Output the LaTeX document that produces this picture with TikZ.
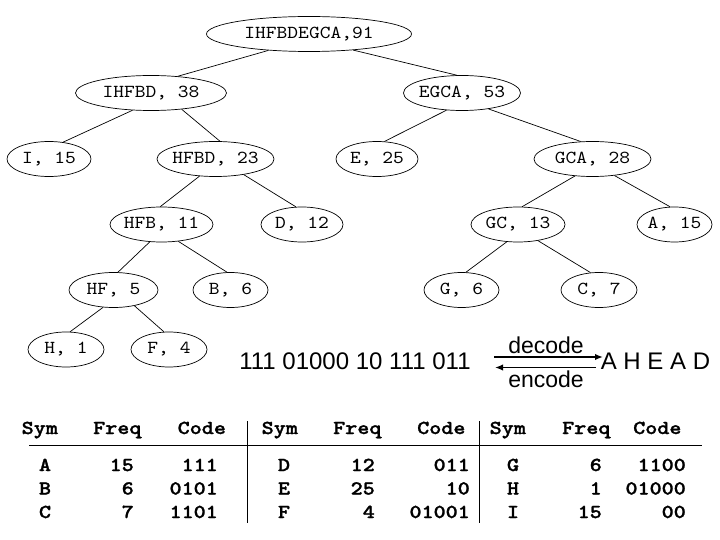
\documentclass[tikz,border=0pt]{standalone}
\usepackage{fontspec}
\usetikzlibrary{shapes.geometric,arrows.meta}
\newfontfamily\cour{lmmono10-regular}[Extension=.otf,FakeStretch=1.12]
\newfontfamily\courb{lmmonolt10-bold}[Extension=.otf,FakeStretch=1.16,FakeBold=1.3]
\newfontfamily\afont{Liberation Sans}
\newcommand\mb[1]{\makebox[0pt]{#1}}
\begin{document}
\begin{tikzpicture}[x=1pt,y=-1pt,
 tnode/.style={ellipse,draw,line width=0.7pt,inner sep=0pt,minimum height=35pt,minimum width=#1,font=\cour\fontsize{18.3}{20}\selectfont},
 edge/.style={line width=0.7pt},
 tabf/.style={inner sep=0pt,font=\courb\fontsize{19.8}{22}\selectfont},
 thd/.style={tabf,anchor=base west},
 tcn/.style={tabf,anchor=base},
 trt/.style={tabf,anchor=base east},
 big/.style={inner sep=0pt,anchor=base,font=\afont\fontsize{24}{28}\selectfont},
 mid/.style={inner sep=0pt,anchor=base,font=\afont\fontsize{23}{27}\selectfont},
 rulel/.style={line width=0.8pt},
 arr/.style={line width=1.6pt,-{Latex[length=8pt,width=6.5pt]}}
]
\useasboundingbox[fill=white] (0,0) rectangle (720,540);

% tree nodes
\node[tnode=205pt] (R) at (309,34) {\mb{IHFBDEGCA,91}};
\node[tnode=151pt] (L) at (151,93) {\mb{IHFBD, 38}};
\node[tnode=117pt] (Rr) at (462,93) {\mb{EGCA, 53}};
\node[tnode=84pt] (I) at (49,159) {\mb{I, 15}};
\node[tnode=117pt] (HFBD) at (215.5,159) {\mb{HFBD, 23}};
\node[tnode=82pt] (E) at (377,159) {\mb{E, 25}};
\node[tnode=117pt] (GCA) at (592.5,159) {\mb{GCA, 28}};
\node[tnode=103pt] (HFB) at (161.5,224.5) {\mb{HFB, 11}};
\node[tnode=82pt] (D) at (302,224.5) {\mb{D, 12}};
\node[tnode=94pt] (GC) at (518,224.5) {\mb{GC, 13}};
\node[tnode=75pt] (A) at (674.5,224.5) {\mb{A, 15}};
\node[tnode=89pt] (HF) at (113.5,290) {\mb{HF, 5}};
\node[tnode=75pt] (B) at (230.5,290) {\mb{B, 6}};
\node[tnode=75pt] (G) at (461.5,290) {\mb{G, 6}};
\node[tnode=76pt] (C) at (599,290) {\mb{C, 7}};
\node[tnode=76pt] (H) at (66,349.5) {\mb{H, 1}};
\node[tnode=76pt] (F) at (169,349.5) {\mb{F, 4}};

% tree edges
\draw[edge] (R.202) -- (L.32);
\draw[edge] (R.340.5) -- (Rr.106);
\draw[edge] (L.223.5) -- (I.50.5);
\draw[edge] (L.332.8) -- (HFBD.76);
\draw[edge] (Rr.228.4) -- (E.67.6);
\draw[edge] (Rr.329.9) -- (GCA.124);
\draw[edge] (HFBD.227.6) -- (HFB.94.6);
\draw[edge] (HFBD.331.6) -- (D.109);
\draw[edge] (GCA.224.2) -- (GC.77);
\draw[edge] (GCA.323) -- (A.104.4);
\draw[edge] (HFB.236.7) -- (HF.76);
\draw[edge] (HFB.315) -- (B.101);
\draw[edge] (GC.237.8) -- (G.76);
\draw[edge] (GC.321.5) -- (C.116.6);
\draw[edge] (HF.239.7) -- (H.77);
\draw[edge] (HF.323.7) -- (F.106);

% encode / decode
\node[big] (bits) at (355,369) {111 01000 10 111 011};
\node[big] (word) at (655.5,369) {A H E A D};
\node[mid] (dec) at (546,353) {decode};
\node[mid] (enc) at (546,387) {encode};
\coordinate (d1) at (494,357);
\coordinate (d2) at (603,357);
\coordinate (e1) at (596,367.5);
\coordinate (e2) at (495,367.5);
\draw[arr] (d1) -- (d2);
\draw[arr] (e1) -- (e2);

% table rules
\draw[rulel] (29,445) -- (702,445);
\draw[rulel] (247,421) -- (247,523);
\draw[rulel] (479,421) -- (479,523);

% table headers
\node[thd] (h1s) at (21.5,434) {Sym};
\node[thd] (h1f) at (93,434) {Freq};
\node[thd] (h1c) at (177.5,434) {Code};
\node[thd] (h2s) at (261.5,434) {Sym};
\node[thd] (h2f) at (333,434) {Freq};
\node[thd] (h2c) at (417,434) {Code};
\node[thd] (h3s) at (489.5,434) {Sym};
\node[thd] (h3f) at (562,434) {Freq};
\node[thd] (h3c) at (633,434) {Code};

% group 1
\node[tcn] (sA) at (45,471) {A};
\node[tcn] (sB) at (45,494.5) {B};
\node[tcn] (sC) at (45,518) {C};
\node[trt] (fA) at (134,471) {15};
\node[trt] (fB) at (134,494.5) {6};
\node[trt] (fC) at (134,518) {7};
\node[trt] (cA) at (218,471) {111};
\node[trt] (cB) at (218,494.5) {0101};
\node[trt] (cC) at (218,518) {1101};

% group 2
\node[tcn] (sD) at (284,471) {D};
\node[tcn] (sE) at (284,494.5) {E};
\node[tcn] (sF) at (284,518) {F};
\node[trt] (fD) at (375,471) {12};
\node[trt] (fE) at (375,494.5) {25};
\node[trt] (fF) at (375,518) {4};
\node[trt] (cD) at (470,471) {011};
\node[trt] (cE) at (470,494.5) {10};
\node[trt] (cF) at (470,518) {01001};

% group 3
\node[tcn] (sG) at (513,471) {G};
\node[tcn] (sH) at (513,494.5) {H};
\node[tcn] (sI) at (513,518) {I};
\node[trt] (fG) at (602,471) {6};
\node[trt] (fH) at (602,494.5) {1};
\node[trt] (fI) at (602,518) {15};
\node[trt] (cG) at (686,471) {1100};
\node[trt] (cH) at (686,494.5) {01000};
\node[trt] (cI) at (686,518) {00};
\end{tikzpicture}
\end{document}
